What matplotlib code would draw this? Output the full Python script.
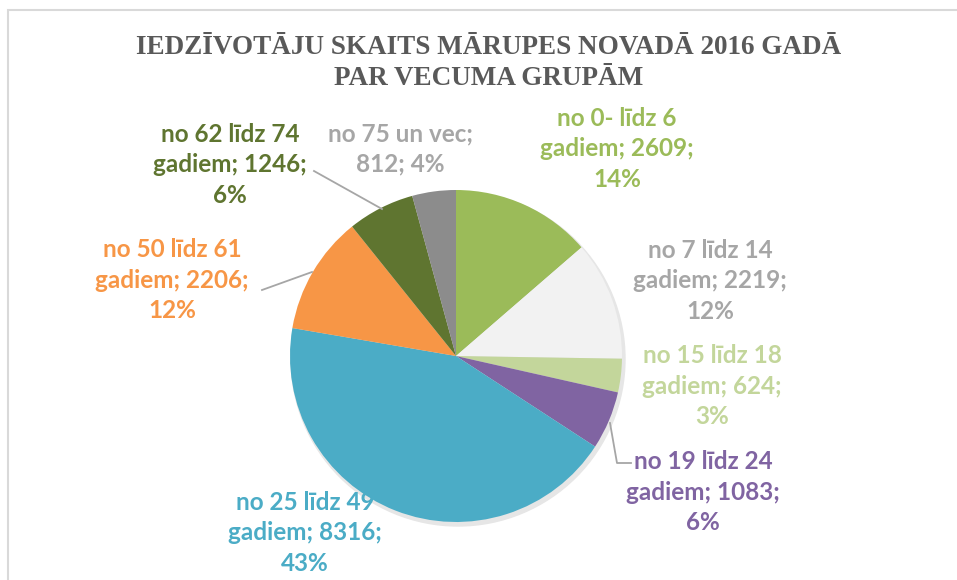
import matplotlib.pyplot as plt
from matplotlib.patches import Rectangle

# dati
grupas = ["no 0- līdz 6 gadiem", "no 7 līdz 14 gadiem", "no 15 līdz 18 gadiem",
          "no 19 līdz 24 gadiem", "no 25 līdz 49 gadiem", "no 50 līdz 61 gadiem",
          "no 62 līdz 74 gadiem", "no 75 un vec"]
skaits = [2609, 2219, 624, 1083, 8316, 2206, 1246, 812]
procenti = [14, 12, 3, 6, 43, 12, 6, 4]

krasas = ['#9BBB59', '#F2F2F2', '#C3D69B', '#8064A2', '#4BACC6', '#F79646', '#5F7530', '#8C8C8C']
teksta_krasas = ['#9BBB59', '#A6A6A6', '#C3D69B', '#8064A2', '#4BACC6', '#F79646', '#5F7530', '#A6A6A6']
# etiķešu centri (pikseļos no augšas)
etik_poz = [(617, 149), (710, 281), (712, 386), (703, 492), (305, 533), (172, 280), (230, 165), (400, 149)]

W, H = 957, 580
fig = plt.figure(figsize=(W / 100, H / 100), dpi=100)
ax = fig.add_axes([0, 0, 1, 1])

# rāmis
ax.add_patch(Rectangle((8, -20), 1000, H - 10 + 20, fill=False, edgecolor='#D9D9D9', linewidth=1.5))

cx, cy, r = 456, H - 356, 166
# viegla ēna
ax.add_patch(plt.Circle((cx + 2, cy - 3), r + 1, color='#E6E6E6', zorder=0))
ax.pie(skaits, colors=krasas, startangle=90, counterclock=False, center=(cx, cy), radius=r,
       wedgeprops=dict(linewidth=0), frame=True)
ax.set_xlim(0, W)
ax.set_ylim(0, H)
ax.axis('off')

# virsraksts
ax.text(W / 2 + 10, H - 63, "IEDZĪVOTĀJU SKAITS MĀRUPES NOVADĀ 2016 GADĀ\nPAR VECUMA GRUPĀM",
        ha='center', va='center', fontsize=19.5, fontweight='bold', family='Liberation Serif',
        color='#595959', linespacing=1.3)

# etiķetes
for g, s, p, c, (x, y) in zip(grupas, skaits, procenti, teksta_krasas, etik_poz):
    if 'gadiem' in g:
        txt = g.replace(' gadiem', '\ngadiem') + f"; {s};\n{p}%"
    else:
        txt = f"{g};\n{s}; {p}%"
    ax.text(x, H - y, txt, ha='center', va='center', fontsize=17.5, fontweight='bold',
            family='Lato', color=c, linespacing=1.4)

# vadlīnijas
lin = dict(color='#A6A6A6', linewidth=1.3)
ax.plot([314, 382], [H - 171, H - 209], **lin)
ax.plot([262, 312], [H - 290, H - 272], **lin)
ax.plot([610, 617, 631], [H - 423, H - 463, H - 463], **lin)

plt.savefig("out.png", dpi=100)
